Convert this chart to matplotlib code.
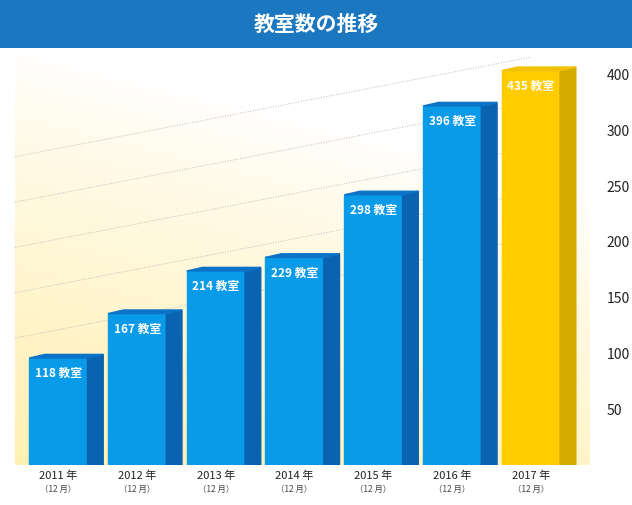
import matplotlib.pyplot as plt
import numpy as np
from matplotlib.patches import Polygon, Rectangle

plt.rcParams['font.family'] = ['Noto Sans CJK JP', 'DejaVu Sans']

years = ['2011', '2012', '2013', '2014', '2015', '2016', '2017']
counts = [118, 167, 214, 229, 298, 396, 435]
tick_labels = ['50', '100', '150', '200', '250', '300', '400']

fig = plt.figure(figsize=(6.32, 5.05), dpi=100)

# title bar
tax = fig.add_axes([0, 1 - 48/505, 1, 48/505])
tax.set_axis_off()
tax.add_patch(Rectangle((0, 0), 1, 1, color='#1a77c0', transform=tax.transAxes))
tax.text(0.5, 0.5, '教室数の推移', color='white', fontsize=15, fontweight='bold',
         ha='center', va='center', transform=tax.transAxes)

ax = fig.add_axes([15/632, 40/505, 575/632, 417/505])
ax.set_xlim(-0.55, 6.75)
ax.set_ylim(0, 460)

# background gradient (cream bottom-left fading to white)
gx, gy = np.meshgrid(np.linspace(0, 1, 200), np.linspace(0, 1, 200))
g = np.clip(1 - (gy * 1.0 + gx * 0.35), 0, 1) ** 0.8
cream = np.array([1.0, 0.94, 0.70])
img = np.ones((200, 200, 3)) * (1 - g[..., None]) + cream * g[..., None]
ax.imshow(img, extent=(-0.55, 6.75, 0, 460), origin='lower', aspect='auto', zorder=0)

# faint slanted guide lines
for y0 in [140, 190, 240, 290, 340]:
    ax.plot([-0.55, 6.0], [y0, y0 + 110], color='#bbbbbb', lw=0.7,
            ls=':', zorder=1)

w = 0.74
dx, dy = 0.2, 4
for i, (yr, c) in enumerate(zip(years, counts)):
    last = i == len(years) - 1
    front = '#ffcc00' if last else '#0a9be8'
    side = '#d4a900' if last else '#0a63b0'
    top = '#f2c200' if last else '#0b74c8'
    x0 = i - w / 2
    ax.add_patch(Rectangle((x0, 0), w, c, color=front, zorder=3))
    ax.add_patch(Polygon([(x0 + w, 0), (x0 + w + dx, -dy), (x0 + w + dx, c + dy),
                          (x0 + w, c)], color=side, zorder=3))
    ax.add_patch(Polygon([(x0, c), (x0 + dx, c + dy), (x0 + w + dx, c + dy),
                          (x0 + w, c)], color=top, zorder=3))
    ax.text(i, c - 10, f'{c} 教室', color='white', fontsize=8.5, fontweight='bold',
            ha='center', va='top', zorder=4)
    ax.text(i, -6, f'{yr} 年', fontsize=8, ha='center', va='top', color='#222222')
    ax.text(i, -22, '（12 月）', fontsize=6, ha='center', va='top', color='#444444')

# tick slots are evenly spaced in the original artwork
tick_pos = 61.5 * np.arange(1, len(tick_labels) + 1)
ax.set_xticks([])
ax.yaxis.tick_right()
ax.set_yticks(tick_pos)
ax.set_yticklabels(tick_labels, fontsize=10, color='#222222')
ax.tick_params(axis='y', length=0, pad=12)
for s in ax.spines.values():
    s.set_visible(False)

fig.savefig('out.png', dpi=100, facecolor='white')
